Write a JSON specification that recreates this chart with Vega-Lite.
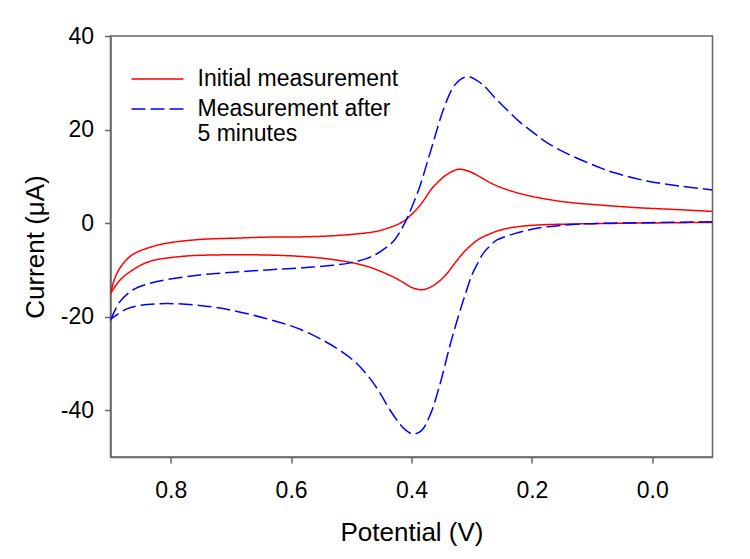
{
  "$schema": "https://vega.github.io/schema/vega-lite/v6.json",
  "width": 602,
  "height": 421,
  "autosize": {"type": "none"},
  "padding": {"left": 110.5, "top": 36, "right": 37.5, "bottom": 102},
  "background": "white",
  "config": {
    "view": {"stroke": "#666666", "strokeWidth": 1.5},
    "axis": {
      "grid": false,
      "domainColor": "#666666",
      "domainWidth": 1.5,
      "tickColor": "#666666",
      "tickWidth": 1.5,
      "tickSize": 6,
      "labelFont": "Liberation Sans",
      "labelFontSize": 23,
      "labelColor": "#000000",
      "titleFont": "Liberation Sans",
      "titleFontSize": 26,
      "titleFontWeight": "normal",
      "titleColor": "#000000"
    },
    "legend": {
      "labelFont": "Liberation Sans",
      "labelFontSize": 23,
      "labelColor": "#000000"
    }
  },
  "data": {
    "values": [
      {"s": "Initial measurement", "b": "up", "o": 1, "v": 0.900, "i": -15.1},
      {"s": "Initial measurement", "b": "up", "o": 2, "v": 0.892, "i": -11.5},
      {"s": "Initial measurement", "b": "up", "o": 3, "v": 0.880, "i": -8.8},
      {"s": "Initial measurement", "b": "up", "o": 4, "v": 0.863, "i": -6.7},
      {"s": "Initial measurement", "b": "up", "o": 5, "v": 0.835, "i": -5.2},
      {"s": "Initial measurement", "b": "up", "o": 6, "v": 0.807, "i": -4.3},
      {"s": "Initial measurement", "b": "up", "o": 7, "v": 0.752, "i": -3.5},
      {"s": "Initial measurement", "b": "up", "o": 8, "v": 0.690, "i": -3.2},
      {"s": "Initial measurement", "b": "up", "o": 9, "v": 0.641, "i": -3.0},
      {"s": "Initial measurement", "b": "up", "o": 10, "v": 0.585, "i": -2.95},
      {"s": "Initial measurement", "b": "up", "o": 11, "v": 0.530, "i": -2.7},
      {"s": "Initial measurement", "b": "up", "o": 12, "v": 0.490, "i": -2.3},
      {"s": "Initial measurement", "b": "up", "o": 13, "v": 0.460, "i": -1.8},
      {"s": "Initial measurement", "b": "up", "o": 14, "v": 0.440, "i": -1.1},
      {"s": "Initial measurement", "b": "up", "o": 15, "v": 0.420, "i": -0.1},
      {"s": "Initial measurement", "b": "up", "o": 16, "v": 0.408, "i": 0.9},
      {"s": "Initial measurement", "b": "up", "o": 17, "v": 0.386, "i": 3.8},
      {"s": "Initial measurement", "b": "up", "o": 18, "v": 0.364, "i": 7.7},
      {"s": "Initial measurement", "b": "up", "o": 19, "v": 0.341, "i": 10.4},
      {"s": "Initial measurement", "b": "up", "o": 20, "v": 0.322, "i": 11.5},
      {"s": "Initial measurement", "b": "up", "o": 21, "v": 0.305, "i": 11.1},
      {"s": "Initial measurement", "b": "up", "o": 22, "v": 0.285, "i": 9.8},
      {"s": "Initial measurement", "b": "up", "o": 23, "v": 0.264, "i": 8.3},
      {"s": "Initial measurement", "b": "up", "o": 24, "v": 0.240, "i": 7.1},
      {"s": "Initial measurement", "b": "up", "o": 25, "v": 0.210, "i": 6.0},
      {"s": "Initial measurement", "b": "up", "o": 26, "v": 0.170, "i": 5.0},
      {"s": "Initial measurement", "b": "up", "o": 27, "v": 0.136, "i": 4.4},
      {"s": "Initial measurement", "b": "up", "o": 28, "v": 0.080, "i": 3.8},
      {"s": "Initial measurement", "b": "up", "o": 29, "v": 0.025, "i": 3.3},
      {"s": "Initial measurement", "b": "up", "o": 30, "v": -0.040, "i": 2.9},
      {"s": "Initial measurement", "b": "up", "o": 31, "v": -0.100, "i": 2.5},
      {"s": "Initial measurement", "b": "down", "o": 32, "v": -0.100, "i": 0.15},
      {"s": "Initial measurement", "b": "down", "o": 33, "v": 0.025, "i": 0.0},
      {"s": "Initial measurement", "b": "down", "o": 34, "v": 0.136, "i": -0.2},
      {"s": "Initial measurement", "b": "down", "o": 35, "v": 0.190, "i": -0.4},
      {"s": "Initial measurement", "b": "down", "o": 36, "v": 0.219, "i": -0.7},
      {"s": "Initial measurement", "b": "down", "o": 37, "v": 0.247, "i": -1.3},
      {"s": "Initial measurement", "b": "down", "o": 38, "v": 0.270, "i": -2.3},
      {"s": "Initial measurement", "b": "down", "o": 39, "v": 0.290, "i": -3.6},
      {"s": "Initial measurement", "b": "down", "o": 40, "v": 0.310, "i": -5.8},
      {"s": "Initial measurement", "b": "down", "o": 41, "v": 0.327, "i": -8.4},
      {"s": "Initial measurement", "b": "down", "o": 42, "v": 0.344, "i": -11.2},
      {"s": "Initial measurement", "b": "down", "o": 43, "v": 0.362, "i": -13.2},
      {"s": "Initial measurement", "b": "down", "o": 44, "v": 0.380, "i": -14.2},
      {"s": "Initial measurement", "b": "down", "o": 45, "v": 0.397, "i": -13.9},
      {"s": "Initial measurement", "b": "down", "o": 46, "v": 0.415, "i": -12.6},
      {"s": "Initial measurement", "b": "down", "o": 47, "v": 0.432, "i": -11.4},
      {"s": "Initial measurement", "b": "down", "o": 48, "v": 0.475, "i": -9.2},
      {"s": "Initial measurement", "b": "down", "o": 49, "v": 0.530, "i": -7.8},
      {"s": "Initial measurement", "b": "down", "o": 50, "v": 0.586, "i": -7.1},
      {"s": "Initial measurement", "b": "down", "o": 51, "v": 0.650, "i": -6.8},
      {"s": "Initial measurement", "b": "down", "o": 52, "v": 0.720, "i": -6.8},
      {"s": "Initial measurement", "b": "down", "o": 53, "v": 0.780, "i": -7.1},
      {"s": "Initial measurement", "b": "down", "o": 54, "v": 0.835, "i": -8.2},
      {"s": "Initial measurement", "b": "down", "o": 55, "v": 0.863, "i": -10.0},
      {"s": "Initial measurement", "b": "down", "o": 56, "v": 0.885, "i": -12.3},
      {"s": "Initial measurement", "b": "down", "o": 57, "v": 0.900, "i": -15.1},

      {"s": "Measurement after 5 minutes", "b": "up", "o": 1, "v": 0.900, "i": -20.8},
      {"s": "Measurement after 5 minutes", "b": "up", "o": 2, "v": 0.885, "i": -16.9},
      {"s": "Measurement after 5 minutes", "b": "up", "o": 3, "v": 0.863, "i": -14.3},
      {"s": "Measurement after 5 minutes", "b": "up", "o": 4, "v": 0.835, "i": -12.9},
      {"s": "Measurement after 5 minutes", "b": "up", "o": 5, "v": 0.807, "i": -12.1},
      {"s": "Measurement after 5 minutes", "b": "up", "o": 6, "v": 0.752, "i": -11.1},
      {"s": "Measurement after 5 minutes", "b": "up", "o": 7, "v": 0.696, "i": -10.5},
      {"s": "Measurement after 5 minutes", "b": "up", "o": 8, "v": 0.640, "i": -10.0},
      {"s": "Measurement after 5 minutes", "b": "up", "o": 9, "v": 0.586, "i": -9.6},
      {"s": "Measurement after 5 minutes", "b": "up", "o": 10, "v": 0.530, "i": -9.0},
      {"s": "Measurement after 5 minutes", "b": "up", "o": 11, "v": 0.502, "i": -8.5},
      {"s": "Measurement after 5 minutes", "b": "up", "o": 12, "v": 0.475, "i": -7.6},
      {"s": "Measurement after 5 minutes", "b": "up", "o": 13, "v": 0.458, "i": -6.6},
      {"s": "Measurement after 5 minutes", "b": "up", "o": 14, "v": 0.443, "i": -5.3},
      {"s": "Measurement after 5 minutes", "b": "up", "o": 15, "v": 0.430, "i": -3.9},
      {"s": "Measurement after 5 minutes", "b": "up", "o": 16, "v": 0.418, "i": -1.6},
      {"s": "Measurement after 5 minutes", "b": "up", "o": 17, "v": 0.408, "i": 0.85},
      {"s": "Measurement after 5 minutes", "b": "up", "o": 18, "v": 0.397, "i": 4.2},
      {"s": "Measurement after 5 minutes", "b": "up", "o": 19, "v": 0.386, "i": 7.9},
      {"s": "Measurement after 5 minutes", "b": "up", "o": 20, "v": 0.375, "i": 12.5},
      {"s": "Measurement after 5 minutes", "b": "up", "o": 21, "v": 0.364, "i": 17.2},
      {"s": "Measurement after 5 minutes", "b": "up", "o": 22, "v": 0.347, "i": 24.3},
      {"s": "Measurement after 5 minutes", "b": "up", "o": 23, "v": 0.330, "i": 29.2},
      {"s": "Measurement after 5 minutes", "b": "up", "o": 24, "v": 0.318, "i": 30.8},
      {"s": "Measurement after 5 minutes", "b": "up", "o": 25, "v": 0.305, "i": 31.3},
      {"s": "Measurement after 5 minutes", "b": "up", "o": 26, "v": 0.293, "i": 30.6},
      {"s": "Measurement after 5 minutes", "b": "up", "o": 27, "v": 0.280, "i": 29.4},
      {"s": "Measurement after 5 minutes", "b": "up", "o": 28, "v": 0.260, "i": 26.6},
      {"s": "Measurement after 5 minutes", "b": "up", "o": 29, "v": 0.242, "i": 24.3},
      {"s": "Measurement after 5 minutes", "b": "up", "o": 30, "v": 0.220, "i": 21.6},
      {"s": "Measurement after 5 minutes", "b": "up", "o": 31, "v": 0.197, "i": 19.3},
      {"s": "Measurement after 5 minutes", "b": "up", "o": 32, "v": 0.175, "i": 17.2},
      {"s": "Measurement after 5 minutes", "b": "up", "o": 33, "v": 0.150, "i": 15.4},
      {"s": "Measurement after 5 minutes", "b": "up", "o": 34, "v": 0.120, "i": 13.6},
      {"s": "Measurement after 5 minutes", "b": "up", "o": 35, "v": 0.090, "i": 12.0},
      {"s": "Measurement after 5 minutes", "b": "up", "o": 36, "v": 0.064, "i": 10.8},
      {"s": "Measurement after 5 minutes", "b": "up", "o": 37, "v": 0.009, "i": 9.0},
      {"s": "Measurement after 5 minutes", "b": "up", "o": 38, "v": -0.047, "i": 7.9},
      {"s": "Measurement after 5 minutes", "b": "up", "o": 39, "v": -0.100, "i": 7.1},
      {"s": "Measurement after 5 minutes", "b": "down", "o": 40, "v": -0.100, "i": 0.3},
      {"s": "Measurement after 5 minutes", "b": "down", "o": 41, "v": 0.009, "i": 0.1},
      {"s": "Measurement after 5 minutes", "b": "down", "o": 42, "v": 0.120, "i": -0.2},
      {"s": "Measurement after 5 minutes", "b": "down", "o": 43, "v": 0.175, "i": -0.8},
      {"s": "Measurement after 5 minutes", "b": "down", "o": 44, "v": 0.200, "i": -1.3},
      {"s": "Measurement after 5 minutes", "b": "down", "o": 45, "v": 0.230, "i": -2.3},
      {"s": "Measurement after 5 minutes", "b": "down", "o": 46, "v": 0.258, "i": -3.6},
      {"s": "Measurement after 5 minutes", "b": "down", "o": 47, "v": 0.268, "i": -4.7},
      {"s": "Measurement after 5 minutes", "b": "down", "o": 48, "v": 0.280, "i": -6.3},
      {"s": "Measurement after 5 minutes", "b": "down", "o": 49, "v": 0.290, "i": -8.6},
      {"s": "Measurement after 5 minutes", "b": "down", "o": 50, "v": 0.300, "i": -11.2},
      {"s": "Measurement after 5 minutes", "b": "down", "o": 51, "v": 0.310, "i": -15.0},
      {"s": "Measurement after 5 minutes", "b": "down", "o": 52, "v": 0.320, "i": -19.0},
      {"s": "Measurement after 5 minutes", "b": "down", "o": 53, "v": 0.336, "i": -26.1},
      {"s": "Measurement after 5 minutes", "b": "down", "o": 54, "v": 0.353, "i": -34.6},
      {"s": "Measurement after 5 minutes", "b": "down", "o": 55, "v": 0.369, "i": -41.0},
      {"s": "Measurement after 5 minutes", "b": "down", "o": 56, "v": 0.383, "i": -44.3},
      {"s": "Measurement after 5 minutes", "b": "down", "o": 57, "v": 0.397, "i": -45.1},
      {"s": "Measurement after 5 minutes", "b": "down", "o": 58, "v": 0.410, "i": -44.2},
      {"s": "Measurement after 5 minutes", "b": "down", "o": 59, "v": 0.419, "i": -43.0},
      {"s": "Measurement after 5 minutes", "b": "down", "o": 60, "v": 0.436, "i": -39.9},
      {"s": "Measurement after 5 minutes", "b": "down", "o": 61, "v": 0.452, "i": -36.4},
      {"s": "Measurement after 5 minutes", "b": "down", "o": 62, "v": 0.469, "i": -33.2},
      {"s": "Measurement after 5 minutes", "b": "down", "o": 63, "v": 0.491, "i": -30.0},
      {"s": "Measurement after 5 minutes", "b": "down", "o": 64, "v": 0.519, "i": -27.2},
      {"s": "Measurement after 5 minutes", "b": "down", "o": 65, "v": 0.552, "i": -24.7},
      {"s": "Measurement after 5 minutes", "b": "down", "o": 66, "v": 0.585, "i": -22.7},
      {"s": "Measurement after 5 minutes", "b": "down", "o": 67, "v": 0.617, "i": -21.3},
      {"s": "Measurement after 5 minutes", "b": "down", "o": 68, "v": 0.696, "i": -18.7},
      {"s": "Measurement after 5 minutes", "b": "down", "o": 69, "v": 0.752, "i": -17.6},
      {"s": "Measurement after 5 minutes", "b": "down", "o": 70, "v": 0.807, "i": -17.2},
      {"s": "Measurement after 5 minutes", "b": "down", "o": 71, "v": 0.852, "i": -17.6},
      {"s": "Measurement after 5 minutes", "b": "down", "o": 72, "v": 0.874, "i": -18.4},
      {"s": "Measurement after 5 minutes", "b": "down", "o": 73, "v": 0.900, "i": -20.6}
    ]
  },
  "mark": {"type": "line", "interpolate": "catmull-rom", "strokeWidth": 1.5, "clip": true},
  "encoding": {
    "x": {
      "field": "v",
      "type": "quantitative",
      "scale": {"domain": [-0.1, 0.9], "reverse": true, "nice": false, "zero": false},
      "axis": {
        "title": "Potential (V)",
        "values": [0.8, 0.6, 0.4, 0.2, 0.0],
        "format": ".1f",
        "labelPadding": 16,
        "titlePadding": 17
      }
    },
    "y": {
      "field": "i",
      "type": "quantitative",
      "scale": {"domain": [-50, 40], "nice": false, "zero": false},
      "axis": {
        "title": "Current (μA)",
        "values": [-40, -20, 0, 20, 40],
        "labelExpr": "toString(datum.value)",
        "labelPadding": 11,
        "titlePadding": 12
      }
    },
    "detail": {"field": "b", "type": "nominal"},
    "order": {"field": "o", "type": "quantitative"},
    "color": {
      "field": "s",
      "type": "nominal",
      "scale": {
        "domain": ["Initial measurement", "Measurement after 5 minutes"],
        "range": ["#ff0000", "#0000ff"]
      },
      "legend": {
        "title": null,
        "orient": "none",
        "legendX": 35.5,
        "legendY": 31.5,
        "padding": 0,
        "rowPadding": 6,
        "symbolType": "M-2.6,0H2.6",
        "symbolSize": 400,
        "symbolStrokeWidth": 1.5,
        "symbolOffset": 0,
        "labelOffset": 28.5,
        "labelLimit": 500,
        "labelExpr": "datum.label == 'Measurement after 5 minutes' ? ['Measurement after', '5 minutes'] : datum.label"
      }
    },
    "strokeDash": {
      "field": "s",
      "type": "nominal",
      "scale": {
        "domain": ["Initial measurement", "Measurement after 5 minutes"],
        "range": [[1, 0], [14, 5]]
      },
      "legend": {
        "title": null,
        "orient": "none",
        "legendX": 35.5,
        "legendY": 31.5,
        "padding": 0,
        "rowPadding": 6,
        "symbolType": "M-2.6,0H2.6",
        "symbolSize": 400,
        "symbolStrokeWidth": 1.5,
        "symbolOffset": 0,
        "labelOffset": 28.5,
        "labelLimit": 500,
        "labelExpr": "datum.label == 'Measurement after 5 minutes' ? ['Measurement after', '5 minutes'] : datum.label"
      }
    }
  }
}
